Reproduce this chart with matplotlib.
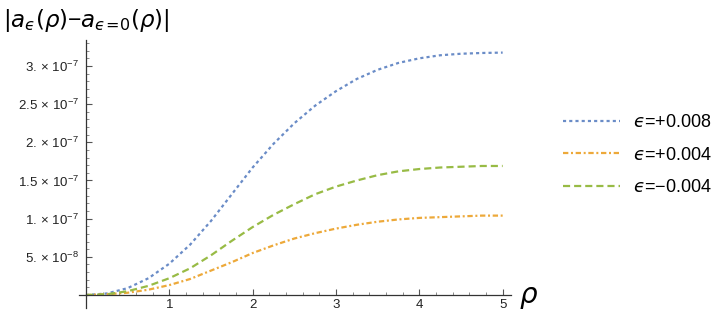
import numpy as np
import matplotlib
matplotlib.use("Agg")
import matplotlib.pyplot as plt
from matplotlib.ticker import FixedLocator

plt.rcParams['font.family'] = ['Liberation Sans', 'DejaVu Sans']
plt.rcParams['mathtext.fontset'] = 'custom'
plt.rcParams['mathtext.rm'] = 'Liberation Sans'
plt.rcParams['mathtext.it'] = 'Liberation Sans:italic'
plt.rcParams['mathtext.fallback'] = 'stixsans'

rho = [0, 0.25, 0.5, 0.75, 1, 1.25, 1.5, 1.75, 2, 2.25, 2.5, 2.75, 3, 3.25, 3.5, 3.75, 4, 4.25, 4.5, 4.75, 5]
eps_p008 = [0, 0.02, 0.09, 0.22, 0.41, 0.66, 0.97, 1.32, 1.67, 1.98, 2.25, 2.48, 2.67, 2.83, 2.95, 3.04, 3.10, 3.14, 3.16, 3.17, 3.175]
eps_p004 = [0, 0.01, 0.03, 0.07, 0.13, 0.21, 0.32, 0.43, 0.55, 0.65, 0.74, 0.81, 0.87, 0.92, 0.96, 0.99, 1.01, 1.02, 1.03, 1.04, 1.04]
eps_m004 = [0, 0.01, 0.05, 0.12, 0.22, 0.35, 0.52, 0.71, 0.89, 1.05, 1.19, 1.32, 1.42, 1.50, 1.57, 1.62, 1.65, 1.67, 1.68, 1.69, 1.69]
scale = 1e-7
labels = ['$\u03f5$=+0.008', '$\u03f5$=+0.004', '$\u03f5$=\u22120.004']
ytick_vals = [0.5e-7, 1e-7, 1.5e-7, 2e-7, 2.5e-7, 3e-7]
ytick_labels = [r'5.$\,\times\,$10$^{-8}$', r'1.$\,\times\,$10$^{-7}$', r'1.5$\,\times\,$10$^{-7}$',
                r'2.$\,\times\,$10$^{-7}$', r'2.5$\,\times\,$10$^{-7}$', r'3.$\,\times\,$10$^{-7}$']

colors = ['#6A8CC7', '#EDA93A', '#98BB45']

fig = plt.figure(figsize=(7.28, 3.15), dpi=100)
# x = 0 sits at pixel 86, x = 5 at pixel 503
ax = fig.add_axes([79.3/728, 1-308/315, (511-79.3)/728, (308-40)/315])

rho_a = np.array(rho)
l1, = ax.plot(rho_a, np.array(eps_p008)*scale, color=colors[0], lw=1.6, dashes=(1.4, 1.4))
l2, = ax.plot(rho_a, np.array(eps_p004)*scale, color=colors[1], lw=1.6, dashes=(2.4, 1.2, 0.9, 1.2))
l3, = ax.plot(rho_a, np.array(eps_m004)*scale, color=colors[2], lw=1.6, dashes=(3.2, 1.8))

ax.set_xlim(-0.08, 5.1)
ax.set_ylim(-0.17e-7, 3.34e-7)
for s in ['top', 'right']:
    ax.spines[s].set_visible(False)
ax.spines['bottom'].set_position(('data', 0))
ax.spines['left'].set_position(('data', 0))
for s in ['bottom', 'left']:
    ax.spines[s].set_color('#333333')
    ax.spines[s].set_linewidth(0.9)

ax.xaxis.set_major_locator(FixedLocator([1, 2, 3, 4, 5]))
ax.xaxis.set_minor_locator(FixedLocator([x/5 for x in range(1, 26) if x % 5 != 0]))
ax.yaxis.set_major_locator(FixedLocator(ytick_vals))
ax.yaxis.set_minor_locator(FixedLocator([k*1e-8 for k in range(1, 34) if k % 5 != 0]))
ax.set_yticklabels(ytick_labels)
ax.tick_params(axis='both', which='major', direction='in', length=4, width=0.8, colors='#555555', labelcolor='#222222', labelsize=9.5)
ax.tick_params(axis='both', which='minor', direction='in', length=2.3, width=0.6, colors='#777777')
ax.tick_params(axis='x', pad=3, labelsize=9.5)
ax.tick_params(axis='y', pad=5)

fig.text(3/728, 1-20/315, '$|a_\u03f5(\\rho)$\u2212$a_{\u03f5\\!=\\!0}(\\rho)|$', fontsize=16.5, va='center', ha='left',
         math_fontfamily='dejavusans')
fig.text(519/728, 1-298/315, r'$\rho$', fontsize=20, va='center', ha='left', math_fontfamily='dejavusans')

leg = fig.legend([l1, l2, l3], labels, loc='center left', bbox_to_anchor=(547/728, 1-155/315),
                 frameon=False, fontsize=13, handlelength=3.15, labelspacing=0.85, handletextpad=0.7)
for t in leg.get_texts():
    t.set_math_fontfamily('dejavusans')

fig.savefig('out.png', dpi=100)
